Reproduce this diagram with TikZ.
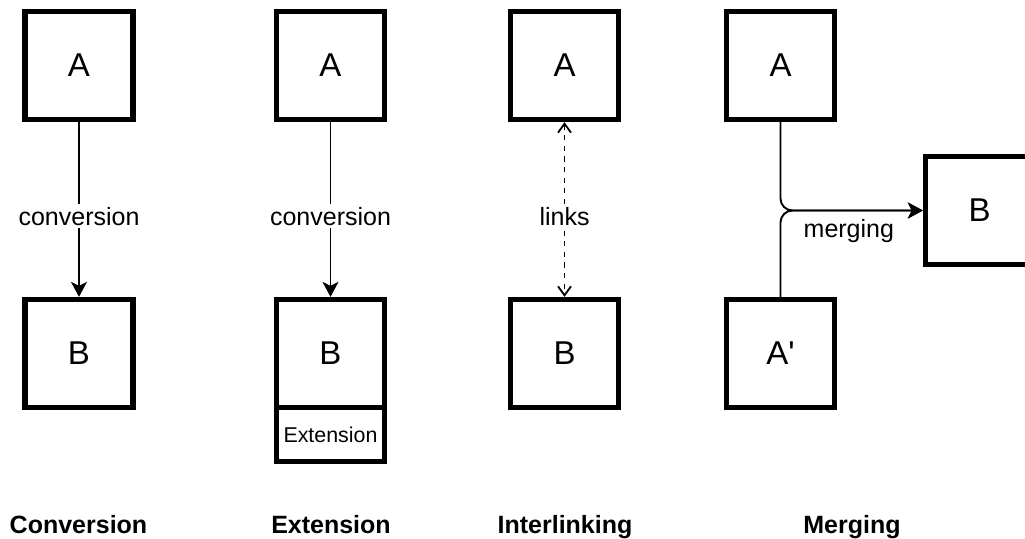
\documentclass[tikz,border=0pt]{standalone}
\usepackage{fontspec}
\setmainfont{Liberation Sans}
\usetikzlibrary{arrows.meta}
\tikzset{
  box/.style={draw=black, line width=5.3pt, fill=white, minimum width=108pt, minimum height=108pt, inner sep=0pt, font=\fontsize{33}{38}\selectfont},
  extbox/.style={draw=black, line width=5.3pt, fill=white, minimum width=108pt, minimum height=54pt, inner sep=0pt, font=\fontsize{21.4}{26}\selectfont},
  conn/.style={line width=1.9pt, -{Stealth[length=15pt, width=16pt, inset=4pt]}},
  linkconn/.style={line width=1.8pt, dash pattern=on 5.3pt off 5.3pt, {Straight Barb[length=9pt, width=13pt]}-{Straight Barb[length=9pt, width=13pt]}},
  lbl/.style={fill=white, inner sep=3pt, anchor=base, yshift=-15.5pt, font=\fontsize{25}{30}\selectfont},
  mlbl/.style={inner sep=0pt, anchor=base, yshift=-27pt, font=\fontsize{25}{30}\selectfont},
  title/.style={anchor=base, inner sep=0pt, font=\fontsize{25}{30}\selectfont\bfseries}
}
\begin{document}
\begin{tikzpicture}[x=1pt, y=-1pt]
\useasboundingbox (0,0) rectangle (1025,538);
% Conversion
\node[box] (cA) at (79,65.5) {A};
\node[box] (cB) at (79,353.5) {B};
\draw[conn] (cA.south) -- node[lbl] {conversion} (cB.north);
% Extension
\node[box] (eA) at (330.5,65.5) {A};
\node[box] (eB) at (330.5,353.5) {B};
\node[extbox] (eX) at (330.5,434.5) {Extension};
\draw[conn] (eA.south) -- node[lbl] {conversion} (eB.north);
% Interlinking
\node[box] (iA) at (564.5,65.5) {A};
\node[box] (iB) at (564.5,353.5) {B};
\draw[linkconn] (iA.south) -- node[lbl] {links} (iB.north);
% Merging
\node[box] (mA) at (780.5,65.5) {A};
\node[box] (mA2) at (780.5,353.5) {A\textquotesingle};
\node[box] (mB) at (979.5,210.5) {B};
\draw[conn, rounded corners=12pt] (mA.south) |- node[mlbl, pos=0.74] {merging} (mB.west);
\draw[conn, rounded corners=12pt] (mA2.north) |- (mB.west);
% Titles
\node[title] (t1) at (78.5,533) {Conversion};
\node[title] (t2) at (331,533) {Extension};
\node[title] (t3) at (565,533) {Interlinking};
\node[title] (t4) at (852,533) {Merging};
\end{tikzpicture}
\end{document}
